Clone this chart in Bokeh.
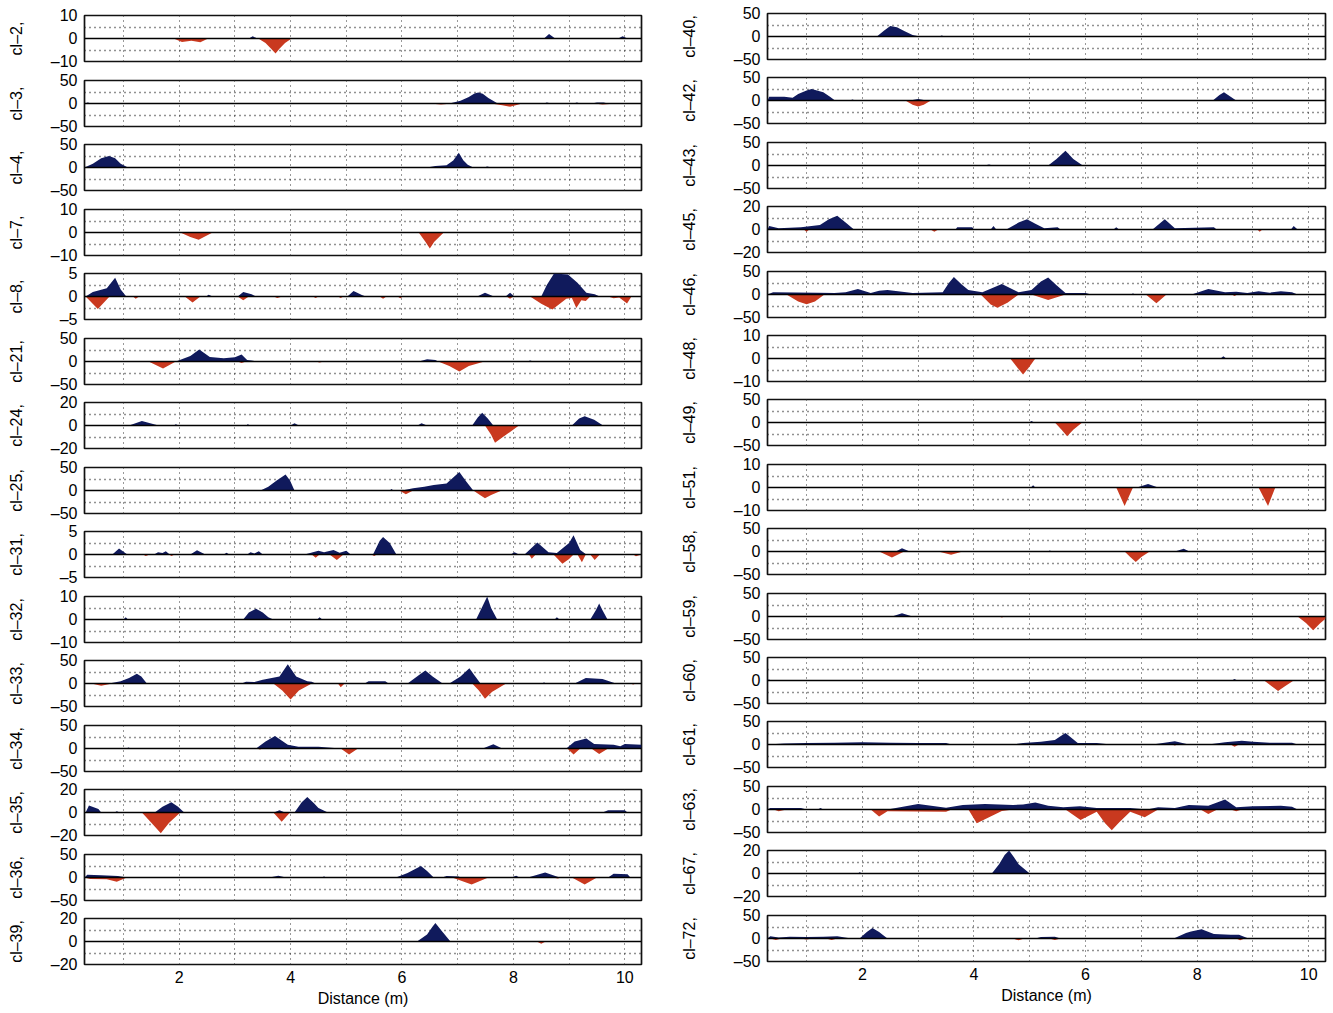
from bokeh.plotting import figure
from bokeh.layouts import row, column
from bokeh.models import Range1d, FixedTicker, Span, CustomJSTickFormatter
from bokeh.embed import file_html
from bokeh.resources import INLINE

# ---------------------------------------------------------------
# Profiles: (distance m, amplitude) breakpoints, zero in between
# ---------------------------------------------------------------
CL2_POS = [(3.25, 0), (3.32, 1), (3.4, 0), (8.55, 0), (8.64, 2), (8.75, 0), (9.88, 0), (9.96, 1), (10.05, 0)]
CL2_NEG = [(1.9, 0), (2.05, -1.5), (2.22, -1.0), (2.38, -1.6), (2.52, 0), (3.42, 0), (3.55, -2), (3.65, -4.5),
           (3.73, -6.5), (3.8, -4.5), (3.9, -2), (4.02, 0)]

CL3_POS = [(0.3, 0), (0.36, 2), (0.42, 0), (6.85, 0), (7.05, 6), (7.2, 14), (7.3, 22), (7.37, 24), (7.45, 21),
           (7.55, 12), (7.72, 0), (8.55, 0), (8.6, 2), (8.68, 0), (9.08, 0), (9.14, 2), (9.2, 0), (9.4, 0),
           (9.5, 2), (9.62, 2), (9.7, 0)]
CL3_NEG = [(6.5, 0), (6.7, -2), (6.9, 0), (7.6, 0), (7.8, -4), (7.94, -7), (8.16, 0), (9.45, 0), (9.6, -2), (9.85, 0)]

CL4_POS = [(0.3, 0), (0.45, 8), (0.6, 20), (0.74, 25), (0.85, 20), (0.95, 8), (1.08, 0), (6.45, 0), (6.6, 3),
           (6.8, 5), (6.92, 15), (7.02, 32), (7.1, 16), (7.18, 6), (7.28, 0), (7.47, 0), (7.53, 2), (7.6, 0)]
CL4_NEG = []

CL7_POS = []
CL7_NEG = [(2.02, 0), (2.2, -2), (2.35, -3.2), (2.6, 0), (6.3, 0), (6.42, -4), (6.5, -7), (6.58, -4), (6.75, 0)]

CL8_POS = [(0.32, 0), (0.45, 1.0), (0.7, 1.8), (0.85, 4.1), (0.95, 1.5), (1.05, 0), (2.48, 0), (2.53, 0.4), (2.6, 0),
           (3.05, 0), (3.15, 1.0), (3.3, 0.5), (3.38, 0), (5.02, 0), (5.13, 1.2), (5.28, 0.3), (5.35, 0),
           (7.35, 0), (7.49, 0.8), (7.65, 0), (7.86, 0), (7.94, 0.8), (8.02, 0), (8.5, 0), (8.6, 2.5),
           (8.73, 5.0), (8.98, 4.8), (9.15, 3.0), (9.31, 0.8), (9.46, 0.5), (9.55, 0)]
CL8_NEG = [(0.32, 0), (0.54, -2.7), (0.75, 0), (1.17, 0), (1.22, -0.5), (1.28, 0), (2.1, 0), (2.24, -1.3), (2.38, 0),
           (3.05, 0), (3.15, -0.8), (3.25, 0), (3.7, 0), (3.76, -0.3), (3.85, 0), (4.4, 0), (4.45, -0.3), (4.5, 0),
           (4.85, 0), (4.9, -0.3), (4.95, 0), (5.6, 0), (5.66, -0.5), (5.72, 0), (5.92, 0), (5.97, -0.4), (6.02, 0),
           (7.88, 0), (7.94, -0.5), (8.0, 0), (8.3, 0), (8.5, -1.6), (8.7, -2.8), (8.95, -0.5), (9.05, -0.3),
           (9.13, -2.5), (9.22, -0.8), (9.3, -1.0), (9.38, 0), (9.7, 0), (9.8, -0.4), (9.9, -0.2), (10.04, -1.5),
           (10.12, 0)]

CL21_POS = [(1.94, 0), (2.2, 12), (2.36, 26), (2.55, 10), (2.8, 7), (3.0, 9), (3.12, 15), (3.22, 3), (3.3, 2),
            (3.42, 0), (6.3, 0), (6.45, 5), (6.6, 3), (6.65, 0), (8.25, 0), (8.3, 2), (8.36, 0)]
CL21_NEG = [(1.45, 0), (1.71, -15), (1.94, 0), (3.05, 0), (3.12, -3), (3.2, 0), (4.45, 0), (4.52, -2), (4.6, 0),
            (6.65, 0), (6.85, -10), (7.03, -22), (7.2, -10), (7.48, 0)]

CL24_POS = [(1.1, 0), (1.33, 4), (1.63, 0), (1.9, 0), (1.94, 1), (1.99, 0), (3.2, 0), (3.23, 1), (3.28, 0),
            (4.0, 0), (4.07, 2), (4.15, 0), (6.28, 0), (6.35, 2), (6.45, 0), (7.26, 0), (7.36, 7), (7.44, 11),
            (7.54, 6), (7.64, 0), (9.05, 0), (9.18, 6), (9.28, 8), (9.45, 5), (9.61, 0)]
CL24_NEG = [(7.49, 0), (7.6, -8), (7.67, -15), (7.78, -11), (7.9, -7), (8.1, 0)]

CL25_POS = [(3.46, 0), (3.6, 8), (3.75, 22), (3.91, 35), (3.99, 22), (4.07, 0), (5.78, 0), (5.81, 3), (5.85, 0),
            (6.0, 0), (6.2, 5), (6.4, 8), (6.57, 12), (6.8, 15), (6.92, 28), (7.03, 40), (7.15, 20), (7.28, 0)]
CL25_NEG = [(5.95, 0), (6.07, -8), (6.2, 0), (7.28, 0), (7.4, -10), (7.49, -17), (7.6, -10), (7.79, 0)]

CL31_POS = [(0.8, 0), (0.92, 1.3), (1.07, 0), (1.55, 0), (1.62, 0.5), (1.7, 0.3), (1.76, 0.7), (1.83, 0),
            (2.2, 0), (2.32, 0.9), (2.47, 0), (2.8, 0), (2.85, 0.4), (2.9, 0), (3.22, 0), (3.28, 0.5), (3.35, 0.2),
            (3.43, 0.7), (3.5, 0), (4.25, 0), (4.5, 0.8), (4.6, 0.5), (4.77, 1.0), (4.88, 0.4), (5.0, 0.8),
            (5.08, 0), (5.48, 0), (5.6, 3.0), (5.66, 3.8), (5.78, 2.5), (5.9, 0), (7.95, 0), (8.02, 0.5),
            (8.1, 0), (8.2, 0), (8.43, 2.6), (8.63, 0.5), (8.78, 0.3), (9.0, 2.5), (9.08, 4.2), (9.2, 1.0), (9.31, 0)]
CL31_NEG = [(1.35, 0), (1.4, -0.3), (1.47, 0), (1.82, 0), (1.86, -0.3), (1.92, 0), (4.38, 0), (4.45, -0.7),
            (4.52, 0), (4.7, 0), (4.83, -1.2), (4.95, 0), (5.45, 0), (5.5, -0.3), (5.55, 0), (8.28, 0),
            (8.33, -0.9), (8.4, 0), (8.72, 0), (8.88, -2.0), (9.0, -1.0), (9.08, 0), (9.15, 0), (9.23, -1.7),
            (9.3, 0), (9.38, 0), (9.46, -1.2), (9.55, 0), (10.15, 0), (10.2, -0.4), (10.3, 0)]

CL32_POS = [(1.0, 0), (1.04, 1), (1.08, 0), (3.15, 0), (3.25, 3), (3.38, 4.7), (3.5, 3), (3.6, 1), (3.69, 0),
            (4.48, 0), (4.52, 1), (4.57, 0), (7.33, 0), (7.45, 6), (7.53, 10), (7.6, 5), (7.71, 0), (8.74, 0),
            (8.78, 1), (8.83, 0), (9.38, 0), (9.48, 4), (9.54, 7), (9.6, 4), (9.69, 0)]
CL32_NEG = []

CL33_POS = [(0.74, 0), (0.95, 5), (1.1, 12), (1.24, 21), (1.32, 15), (1.42, 0), (3.12, 0), (3.2, 4), (3.35, 3),
            (3.5, 8), (3.8, 15), (3.95, 42), (4.1, 15), (4.3, 5), (4.38, 4), (4.45, 0), (5.33, 0), (5.4, 5),
            (5.7, 5), (5.76, 0), (6.1, 0), (6.3, 18), (6.42, 28), (6.55, 15), (6.73, 0), (6.85, 0), (7.05, 15),
            (7.21, 33), (7.3, 18), (7.41, 0), (8.5, 0), (8.55, 2), (8.6, 0), (9.1, 0), (9.3, 12), (9.6, 10),
            (9.84, 0)]
CL33_NEG = [(0.42, 0), (0.6, -5), (0.8, 0), (3.69, 0), (3.85, -15), (4.0, -35), (4.15, -15), (4.38, 0), (4.85, 0),
            (4.9, -8), (4.97, 0), (7.26, 0), (7.38, -15), (7.49, -33), (7.62, -18), (7.87, 0), (10.1, 0),
            (10.15, -2), (10.2, 0)]

CL34_POS = [(1.05, 0), (1.09, 2), (1.13, 0), (2.95, 0), (3.0, 2), (3.05, 0), (3.38, 0), (3.55, 15), (3.72, 27),
            (3.95, 8), (4.14, 4), (4.5, 4), (4.9, 0), (7.45, 0), (7.64, 9), (7.8, 0), (8.95, 0), (9.1, 15),
            (9.31, 22), (9.45, 10), (9.8, 8), (9.92, 5), (10.0, 10), (10.3, 8)]
CL34_NEG = [(3.4, 0), (3.45, -2), (3.5, 0), (4.9, 0), (5.05, -13), (5.21, 0), (8.97, 0), (9.08, -13), (9.2, 0),
            (9.4, 0), (9.54, -12), (9.7, 0)]

CL35_POS = [(0.32, 0), (0.38, 6), (0.55, 3), (0.6, 0), (0.84, 0), (0.88, 1), (0.93, 0), (1.56, 0), (1.7, 5),
            (1.86, 9), (1.98, 5), (2.09, 0), (3.7, 0), (3.8, 2), (3.9, 0), (4.07, 0), (4.2, 9), (4.3, 13.5),
            (4.42, 8), (4.5, 4), (4.67, 0), (9.6, 0), (9.7, 2), (10.0, 2), (10.05, 0)]
CL35_NEG = [(1.33, 0), (1.5, -9), (1.67, -18), (1.82, -9), (2.02, 0), (3.69, 0), (3.84, -8), (3.99, 0)]

CL36_POS = [(0.3, 0), (0.35, 6), (0.6, 5), (0.9, 3), (1.06, 0), (3.62, 0), (3.78, 4), (3.92, 0), (4.55, 0),
            (4.6, 2), (4.65, 0), (5.89, 0), (6.1, 10), (6.34, 25), (6.45, 14), (6.57, 0), (6.72, 0), (6.8, 3),
            (7.02, 2), (7.05, 0), (7.96, 0), (8.05, 4), (8.11, 0), (8.26, 0), (8.57, 11), (8.83, 0), (9.7, 0),
            (9.8, 8), (10.05, 7), (10.1, 0)]
CL36_NEG = [(0.3, 0), (0.4, -3), (0.7, -4), (0.88, -9), (1.06, 0), (6.9, 0), (7.25, -15), (7.55, 0), (8.7, 0),
            (8.8, -2), (8.85, 0), (9.05, 0), (9.28, -15), (9.5, 0)]

CL39_POS = [(6.27, 0), (6.45, 6), (6.55, 13), (6.6, 16), (6.7, 10), (6.87, 0)]
CL39_NEG = [(8.42, 0), (8.5, -2), (8.58, 0)]

CL40_POS = [(2.26, 0), (2.38, 12), (2.5, 23), (2.62, 20), (2.75, 12), (2.9, 3), (3.03, 0), (3.38, 0), (3.42, 2),
            (3.48, 0)]
CL40_NEG = []

CL42_POS = [(0.3, 0), (0.33, 8), (0.6, 8), (0.75, 6), (0.85, 14), (1.0, 22), (1.09, 25), (1.3, 18), (1.42, 8),
            (1.51, 0), (1.78, 0), (1.82, 2), (1.88, 0), (2.85, 0), (3.0, 3), (3.15, 0), (8.28, 0), (8.4, 12),
            (8.48, 18), (8.58, 10), (8.7, 0)]
CL42_NEG = [(2.77, 0), (2.9, -9), (3.0, -13), (3.1, -9), (3.23, 0)]

CL43_POS = [(4.19, 0), (4.27, 2), (4.34, 0), (5.33, 0), (5.48, 14), (5.64, 32), (5.78, 14), (5.95, 0)]
CL43_NEG = [(1.38, 0), (1.5, -1), (1.65, 0)]

CL45_POS = [(0.3, 0), (0.33, 3), (0.5, 1), (0.9, 2), (1.24, 4), (1.4, 9), (1.55, 12), (1.7, 6), (1.85, 0),
            (3.67, 0), (3.7, 2), (3.97, 2), (4.0, 0), (4.3, 0), (4.35, 3), (4.4, 0), (4.58, 0), (4.8, 6),
            (4.95, 9), (5.1, 5), (5.26, 1), (5.5, 2), (5.55, 0), (6.5, 0), (6.55, 2), (6.6, 0), (7.2, 0),
            (7.42, 9), (7.6, 1), (8.3, 2), (8.35, 0), (9.68, 0), (9.73, 3), (9.8, 0)]
CL45_NEG = [(0.95, 0), (1.0, -2), (1.05, 0), (3.22, 0), (3.29, -2), (3.36, 0), (9.08, 0), (9.12, -2), (9.17, 0)]

CL46_POS = [(0.3, 0), (0.4, 5), (1.2, 4), (1.5, 3), (1.7, 5), (1.92, 12), (2.15, 3), (2.3, 8), (2.45, 10),
            (2.9, 3), (3.44, 5), (3.55, 25), (3.64, 38), (3.78, 22), (3.9, 10), (4.15, 5), (4.5, 23), (4.8, 5),
            (5.03, 10), (5.2, 28), (5.33, 37), (5.48, 20), (5.64, 3), (6.0, 3), (6.1, 0), (6.8, 0), (6.85, 2),
            (6.9, 0), (7.9, 0), (8.2, 12), (8.5, 5), (8.7, 6), (8.9, 3), (9.1, 7), (9.3, 4), (9.5, 7), (9.7, 5),
            (9.8, 0)]
CL46_NEG = [(0.64, 0), (0.85, -15), (1.0, -21), (1.15, -15), (1.32, 0), (4.12, 0), (4.3, -22), (4.42, -29),
            (4.6, -18), (4.8, 0), (5.03, 0), (5.33, -12), (5.64, 0), (7.08, 0), (7.27, -19), (7.45, 0), (8.62, 0),
            (8.67, -3), (8.72, 0)]

CL48_POS = [(8.42, 0), (8.47, 1), (8.52, 0)]
CL48_NEG = [(4.65, 0), (4.78, -4), (4.88, -7), (4.98, -4), (5.1, 0)]

CL49_POS = [(4.99, 0), (5.03, 3), (5.08, 0)]
CL49_NEG = [(5.45, 0), (5.57, -16), (5.67, -30), (5.78, -16), (5.94, 0)]

CL51_POS = [(5.02, 0), (5.06, 1), (5.1, 0), (6.92, 0), (7.12, 1.5), (7.3, 0)]
CL51_NEG = [(6.55, 0), (6.7, -8), (6.85, 0), (9.1, 0), (9.27, -8), (9.4, 0)]

CL58_POS = [(2.6, 0), (2.71, 7), (2.85, 0), (5.32, 0), (5.36, 2), (5.4, 0), (7.6, 0), (7.76, 6), (7.86, 0)]
CL58_NEG = [(2.3, 0), (2.53, -13), (2.75, 0), (3.36, 0), (3.59, -7), (3.8, 0), (6.7, 0), (6.8, -12), (6.9, -23),
            (7.0, -12), (7.15, 0)]

CL59_POS = [(2.53, 0), (2.71, 7), (2.9, 0)]
CL59_NEG = [(4.45, 0), (4.5, -2), (4.55, 0), (9.8, 0), (9.95, -14), (10.08, -30), (10.2, -15), (10.3, -5)]

CL60_POS = [(0.3, 0), (0.32, 2), (0.38, 0), (8.62, 0), (8.67, 3), (8.72, 0)]
CL60_NEG = [(9.2, 0), (9.33, -12), (9.45, -23), (9.58, -12), (9.73, 0)]

CL61_POS = [(0.3, 0), (0.6, 2), (1.0, 3), (1.5, 4), (2.0, 5), (2.5, 4), (3.0, 3), (3.5, 3), (3.6, 0), (4.7, 0),
            (4.88, 3), (5.2, 6), (5.45, 10), (5.55, 18), (5.64, 25), (5.75, 14), (5.86, 3), (6.2, 3), (6.45, 0),
            (7.2, 0), (7.6, 7), (7.85, 0), (8.2, 0), (8.5, 5), (8.8, 8), (9.0, 6), (9.3, 4), (9.7, 4), (9.8, 0)]
CL61_NEG = [(7.55, 0), (7.6, -2), (7.65, 0), (8.6, 0), (8.67, -5), (8.75, 0)]

CL63_POS = [(0.3, 0), (0.35, 3), (0.9, 3), (1.0, 0), (1.2, 0), (1.25, 3), (1.3, 0), (2.45, 0), (3.0, 12),
            (3.5, 4), (3.8, 10), (4.2, 12), (4.7, 10), (4.88, 11), (5.1, 15), (5.33, 8), (5.6, 5), (5.9, 7),
            (6.2, 3), (6.8, 3), (7.1, 0), (7.3, 5), (7.6, 3), (7.85, 10), (8.2, 8), (8.5, 22), (8.7, 5),
            (9.0, 7), (9.5, 8), (9.7, 6), (9.8, 0)]
CL63_NEG = [(0.41, 0), (0.5, -4), (0.64, 0), (2.15, 0), (2.3, -15), (2.45, -4), (3.5, -5), (3.6, 0), (3.9, 0),
            (4.05, -30), (4.5, -3), (4.7, 0), (5.64, 0), (5.91, -23), (6.2, -5), (6.35, -30), (6.47, -45),
            (6.6, -28), (6.8, -5), (7.06, -17), (7.3, 0), (8.06, 0), (8.2, -10), (8.36, 0), (8.6, 0), (8.7, -4),
            (8.8, 0)]

CL67_POS = [(1.92, 0), (1.95, 1), (2.0, 0), (4.32, 0), (4.45, 8), (4.55, 16), (4.63, 20), (4.72, 14), (4.8, 8),
            (5.0, 0)]
CL67_NEG = []

CL72_POS = [(0.3, 0), (0.35, 5), (0.5, 2), (0.7, 4), (1.0, 3), (1.3, 4), (1.55, 5), (1.8, 0), (1.95, 0),
            (2.08, 14), (2.18, 23), (2.3, 14), (2.45, 0), (5.1, 0), (5.2, 3), (5.45, 4), (5.55, 0), (7.58, 0),
            (7.8, 12), (7.89, 15), (8.08, 20), (8.3, 10), (8.6, 8), (8.75, 8), (8.92, 0)]
CL72_NEG = [(0.35, 0), (0.45, -3), (0.55, 0), (0.9, 0), (1.0, -2), (1.1, 0), (1.35, 0), (1.45, -3), (1.55, 0),
            (4.7, 0), (4.8, -4), (4.9, 0), (5.35, 0), (5.45, -3), (5.55, 0), (8.7, 0), (8.77, -4), (8.85, 0)]

LEFT_NAMES = ["cl\u20132,", "cl\u20133,", "cl\u20134,", "cl\u20137,", "cl\u20138,", "cl\u201321,", "cl\u201324,",
              "cl\u201325,", "cl\u201331,", "cl\u201332,", "cl\u201333,", "cl\u201334,", "cl\u201335,",
              "cl\u201336,", "cl\u201339,"]
LEFT_LIMITS = [10, 50, 50, 10, 5, 50, 20, 50, 5, 10, 50, 50, 20, 50, 20]
LEFT_POS = [CL2_POS, CL3_POS, CL4_POS, CL7_POS, CL8_POS, CL21_POS, CL24_POS, CL25_POS, CL31_POS, CL32_POS,
            CL33_POS, CL34_POS, CL35_POS, CL36_POS, CL39_POS]
LEFT_NEG = [CL2_NEG, CL3_NEG, CL4_NEG, CL7_NEG, CL8_NEG, CL21_NEG, CL24_NEG, CL25_NEG, CL31_NEG, CL32_NEG,
            CL33_NEG, CL34_NEG, CL35_NEG, CL36_NEG, CL39_NEG]

RIGHT_NAMES = ["cl\u201340,", "cl\u201342,", "cl\u201343,", "cl\u201345,", "cl\u201346,", "cl\u201348,",
               "cl\u201349,", "cl\u201351,", "cl\u201358,", "cl\u201359,", "cl\u201360,", "cl\u201361,",
               "cl\u201363,", "cl\u201367,", "cl\u201372,"]
RIGHT_LIMITS = [50, 50, 50, 20, 50, 10, 50, 10, 50, 50, 50, 50, 50, 20, 50]
RIGHT_POS = [CL40_POS, CL42_POS, CL43_POS, CL45_POS, CL46_POS, CL48_POS, CL49_POS, CL51_POS, CL58_POS,
             CL59_POS, CL60_POS, CL61_POS, CL63_POS, CL67_POS, CL72_POS]
RIGHT_NEG = [CL40_NEG, CL42_NEG, CL43_NEG, CL45_NEG, CL46_NEG, CL48_NEG, CL49_NEG, CL51_NEG, CL58_NEG,
             CL59_NEG, CL60_NEG, CL61_NEG, CL63_NEG, CL67_NEG, CL72_NEG]

X_TICKS = [2, 4, 6, 8, 10]
X_GRID = [1, 2, 3, 4, 5, 6, 7, 8, 9, 10]

# ---------------------------------------------------------------
NAVY = "#101a5c"
RED = "#c9391f"
FONT = "Liberation Sans"
X0, X1 = 0.3, 10.3
FRAME_H = 46

minus_fmt = CustomJSTickFormatter(code="""
    return tick < 0 ? "\u2013" + Math.abs(tick) : String(tick);
""")


def draw_profile(p, pts, color):
    if not pts:
        return
    xs = [pt[0] for pt in pts]
    ys = [pt[1] for pt in pts]
    p.varea(x=xs, y1=[0] * len(xs), y2=ys, fill_color=color, fill_alpha=1.0)


def panel(name, lim, pos, neg, frame_w, top, bottom, left, right, label_gap, last):
    p = figure(frame_width=frame_w, frame_height=FRAME_H,
               x_range=Range1d(X0, X1), y_range=Range1d(-lim, lim),
               x_axis_location="below" if last else None,
               output_backend="svg", toolbar_location=None,
               min_border_left=left, min_border_right=right,
               min_border_top=top, min_border_bottom=bottom,
               background_fill_color="white", border_fill_color="white")
    p.outline_line_color = "#111111"
    p.outline_line_width = 1.7

    # sparse dotted grid
    p.xgrid.ticker = FixedTicker(ticks=X_GRID)
    p.xgrid.grid_line_color = "#333333"
    p.xgrid.grid_line_dash = "1 4"
    p.xgrid.grid_line_width = 1
    p.ygrid.ticker = FixedTicker(ticks=[-lim / 2, lim / 2])
    p.ygrid.grid_line_color = "#222222"
    p.ygrid.grid_line_dash = "1 4"
    p.ygrid.grid_line_width = 1.4

    draw_profile(p, pos, NAVY)
    draw_profile(p, neg, RED)
    p.add_layout(Span(location=0, dimension="width", line_color="black", line_width=1.5))

    ya = p.yaxis[0]
    ya.ticker = FixedTicker(ticks=[-lim, 0, lim])
    ya.formatter = minus_fmt
    ya.axis_line_color = None
    ya.major_tick_out = 0
    ya.major_tick_in = 0
    ya.minor_tick_line_color = None
    ya.major_label_standoff = 7
    ya.major_label_text_font = FONT
    ya.major_label_text_font_size = "16px"
    ya.major_label_text_color = "black"
    ya.axis_label = name
    ya.axis_label_text_font = FONT
    ya.axis_label_text_font_size = "16px"
    ya.axis_label_text_font_style = "normal"
    ya.axis_label_text_color = "black"
    widest = 26 if lim >= 10 else 17
    ya.axis_label_standoff = label_gap + (26 - widest)

    if last:
        xa = p.xaxis[0]
        xa.ticker = FixedTicker(ticks=X_TICKS)
        xa.axis_line_color = None
        xa.major_tick_out = 0
        xa.major_tick_in = 0
        xa.minor_tick_line_color = None
        xa.major_label_standoff = 6
        xa.major_label_text_font = FONT
        xa.major_label_text_font_size = "16px"
        xa.major_label_text_color = "black"
        xa.axis_label = "Distance (m)"
        xa.axis_label_text_font = FONT
        xa.axis_label_text_font_size = "16px"
        xa.axis_label_text_font_style = "normal"
        xa.axis_label_text_color = "black"
        xa.axis_label_standoff = 4
    return p


def build_column(names, limits, pos_list, neg_list, first_top, pitch, frame_w, left, right, label_gap, total_h):
    n = len(names)
    tops = [int(first_top + pitch * i + 0.5) for i in range(n)]
    bounds = [0] + [t - 9 for t in tops[1:]] + [total_h]
    figs = []
    for i in range(n):
        top = tops[i] - bounds[i]
        bottom = bounds[i + 1] - tops[i] - FRAME_H
        figs.append(panel(names[i], limits[i], pos_list[i], neg_list[i], frame_w,
                          top, bottom, left, right, label_gap, i == n - 1))
    return column(*figs, spacing=0)


left_col = build_column(LEFT_NAMES, LEFT_LIMITS, LEFT_POS, LEFT_NEG, 15, 64.5, 557, 84, 34, 23, 1010)
right_col = build_column(RIGHT_NAMES, RIGHT_LIMITS, RIGHT_POS, RIGHT_NEG, 13, 64.4, 558, 92, 8, 33, 1010)
layout = row(left_col, right_col, spacing=0)

open("out.html", "w").write(file_html(layout, INLINE))
